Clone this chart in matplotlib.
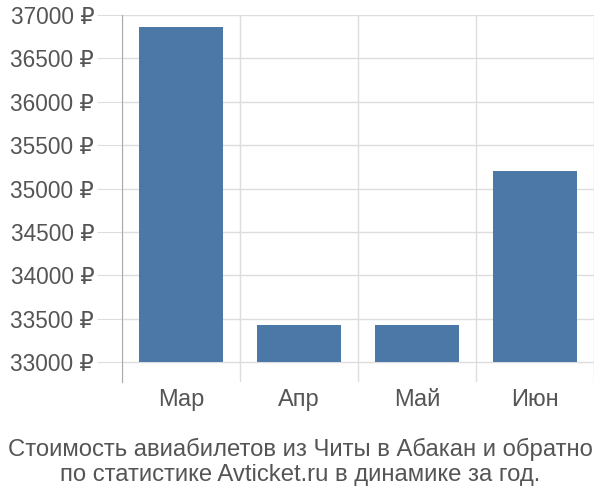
import numpy as np
import matplotlib
matplotlib.use("Agg")
import matplotlib.pyplot as plt

months = ["Мар", "Апр", "Май", "Июн"]
prices = [36860, 33425, 33425, 35200]
yticks = [33000, 33500, 34000, 34500, 35000, 35500, 36000, 36500, 37000]
title = "Стоимость авиабилетов из Читы в Абакан и обратно\nпо статистике Avticket.ru в динамике за год."

plt.rcParams['font.family'] = ['Liberation Sans', 'DejaVu Sans']
txt = "#555555"

fig = plt.figure(figsize=(6, 5), dpi=100)
ax = fig.add_axes([122/600, 1-382/500, 472/600, 367/500])

x = np.arange(len(months))
base = 33000
ax.bar(x, np.array(prices) - base, bottom=base, width=0.72, color="#4c78a8", zorder=3)

ax.set_xlim(-0.5, len(months) - 0.5)
ax.set_ylim(32770, 37000)
ax.set_yticks(yticks)
ax.set_yticklabels([f"{v} ₽" for v in yticks])
ax.set_xticks(x)
ax.set_xticklabels(months)

# vertical lines between categories
ax.set_xticks(np.arange(-0.5, len(months)), minor=True)
ax.grid(axis="x", which="minor", color="#dddddd", linewidth=1, zorder=0)
ax.grid(axis="y", which="major", color="#dddddd", linewidth=1, zorder=0)
ax.tick_params(axis="x", which="both", length=0, labelsize=17, labelcolor=txt, pad=5)
ax.tick_params(axis="y", length=18, color="#dddddd", labelsize=16.3, labelcolor=txt, pad=2)

for s in ["top", "right", "bottom"]:
    ax.spines[s].set_visible(False)
ax.spines["left"].set_color("#aaaaaa")

fig.text(0.5, 1-462/500, title, ha="center", va="center", fontsize=17.2, color=txt, linespacing=1.22)

fig.savefig("out.png", dpi=100)
